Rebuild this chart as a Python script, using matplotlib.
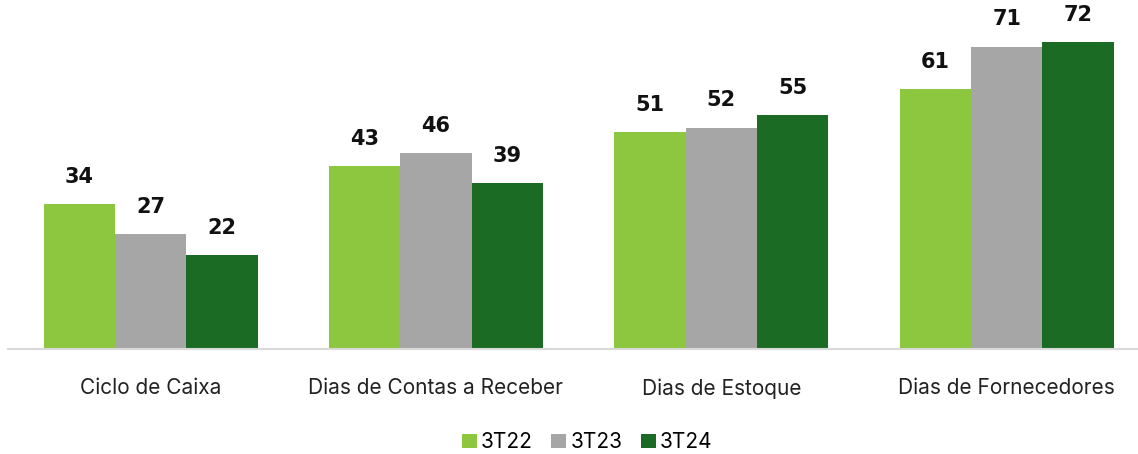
import numpy as np
import matplotlib.pyplot as plt

categorias = ["Ciclo de Caixa", "Dias de Contas a Receber", "Dias de Estoque", "Dias de Fornecedores"]
series = ["3T22", "3T23", "3T24"]
v_3t22 = [34, 43, 51, 61]
v_3t23 = [27, 46, 52, 71]
v_3t24 = [22, 39, 55, 72]
cores = ["#8DC63F", "#A6A6A6", "#1B6B24"]

fig = plt.figure(figsize=(11.38, 4.54), dpi=100)
ax = fig.add_axes([0.007, 0.231, 1.003, 0.751])

x = np.arange(len(categorias))
w = 0.25
for i, (nome, vals) in enumerate(zip(series, [v_3t22, v_3t23, v_3t24])):
    barras = ax.bar(x + (i - 1) * w, vals, w, color=cores[i], label=nome)
    for b, v in zip(barras, vals):
        ax.text(b.get_x() + b.get_width() / 2, v + 4, str(v), ha="center", va="bottom",
                fontsize=15, fontweight="heavy", family="DejaVu Sans", color="#111111")

ax.set_xlim(-0.5, 3.5)
ax.set_ylim(0, 80)
ax.set_yticks([])
ax.set_xticks(x)
ax.set_xticklabels(categorias, fontsize=15, family="Inter", color="#222222")
ax.tick_params(axis="x", length=0, pad=21)
for s in ["top", "right", "left"]:
    ax.spines[s].set_visible(False)
ax.spines["bottom"].set_color("#D9D9D9")
ax.spines["bottom"].set_linewidth(1.5)

fig.legend(loc="center", bbox_to_anchor=(0.516, 0.026), ncol=3, frameon=False,
           prop={"family": "Inter", "size": 15}, handlelength=0.7, handleheight=0.7,
           handletextpad=0.2, columnspacing=0.9)

plt.savefig("out.png", dpi=100)
